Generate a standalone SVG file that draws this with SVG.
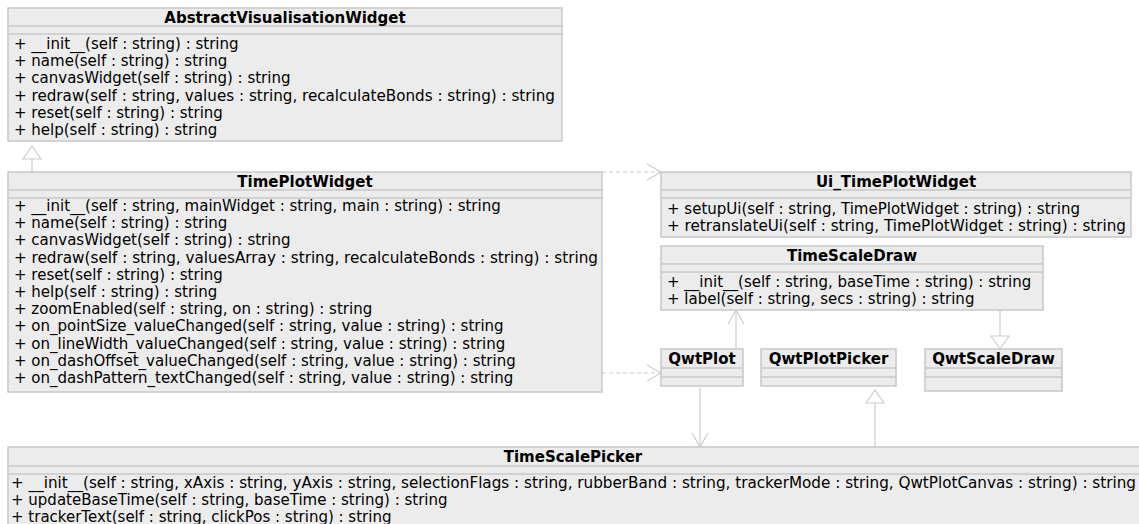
<svg xmlns="http://www.w3.org/2000/svg" width="1139" height="524" viewBox="0 0 1139 524">
  <defs>
    <style>
      .box { fill: #ececec; stroke: #c8c8c8; stroke-width: 1.5; }
      .sep { stroke: #c8c8c8; stroke-width: 1.5; }
      .title { font-family: "DejaVu Sans", sans-serif; font-size: 15px; font-weight: bold; fill: #000; text-anchor: middle; }
      .op { font-family: "DejaVu Sans", sans-serif; font-size: 15px; fill: #000; }
      .link { fill: none; stroke: #cccccc; stroke-width: 1.2; }
      .dash { stroke-dasharray: 4 3; }
    </style>
    <marker id="open" viewBox="0 0 16 18" refX="15" refY="9" markerWidth="16" markerHeight="18" markerUnits="userSpaceOnUse" orient="auto">
      <path d="M1,1 L15,9 L1,17" fill="none" stroke="#cccccc" stroke-width="1.2"/>
    </marker>
    <marker id="tri" viewBox="0 0 16 20" refX="14" refY="10" markerWidth="16" markerHeight="20" markerUnits="userSpaceOnUse" orient="auto">
      <path d="M1,1 L14,10 L1,19 Z" fill="#ffffff" stroke="#cccccc" stroke-width="1.2"/>
    </marker>
  </defs>
  <rect width="1139" height="524" fill="#ffffff"/>

  <g id="connectors">
    <path class="link" d="M32,172 L32,146" marker-end="url(#tri)"/>
    <path class="link dash" d="M602,172 L661,172" marker-end="url(#open)"/>
    <path class="link dash" d="M602,373 L661,373" marker-end="url(#open)"/>
    <path class="link" d="M736,349 L736,310" marker-end="url(#open)"/>
    <path class="link" d="M1000,310 L1000,349" marker-end="url(#tri)"/>
    <path class="link" d="M700,388 L700,447" marker-end="url(#open)"/>
    <path class="link" d="M875,447 L875,390" marker-end="url(#tri)"/>
  </g>

  <g id="AbstractVisualisationWidget">
    <rect class="box" x="8" y="8" width="554" height="133"/>
    <line class="sep" x1="8" y1="26" x2="562" y2="26"/>
    <line class="sep" x1="8" y1="34" x2="562" y2="34"/>
    <text class="title" x="285" y="22.5">AbstractVisualisationWidget</text>
    <text class="op" x="14" y="49">+ __init__(self : string) : string</text>
    <text class="op" x="14" y="66.2">+ name(self : string) : string</text>
    <text class="op" x="14" y="83.4">+ canvasWidget(self : string) : string</text>
    <text class="op" x="14" y="100.6" textLength="541" lengthAdjust="spacingAndGlyphs">+ redraw(self : string, values : string, recalculateBonds : string) : string</text>
    <text class="op" x="14" y="117.8">+ reset(self : string) : string</text>
    <text class="op" x="14" y="135">+ help(self : string) : string</text>
  </g>

  <g id="TimePlotWidget">
    <rect class="box" x="8" y="172" width="594" height="220"/>
    <line class="sep" x1="8" y1="190" x2="602" y2="190"/>
    <line class="sep" x1="8" y1="198" x2="602" y2="198"/>
    <text class="title" x="305" y="186.5">TimePlotWidget</text>
    <text class="op" x="14" y="211">+ __init__(self : string, mainWidget : string, main : string) : string</text>
    <text class="op" x="14" y="228.2">+ name(self : string) : string</text>
    <text class="op" x="14" y="245.4">+ canvasWidget(self : string) : string</text>
    <text class="op" x="14" y="262.6" textLength="584" lengthAdjust="spacingAndGlyphs">+ redraw(self : string, valuesArray : string, recalculateBonds : string) : string</text>
    <text class="op" x="14" y="279.8">+ reset(self : string) : string</text>
    <text class="op" x="14" y="297">+ help(self : string) : string</text>
    <text class="op" x="14" y="314.2">+ zoomEnabled(self : string, on : string) : string</text>
    <text class="op" x="14" y="331.4">+ on_pointSize_valueChanged(self : string, value : string) : string</text>
    <text class="op" x="14" y="348.6">+ on_lineWidth_valueChanged(self : string, value : string) : string</text>
    <text class="op" x="14" y="365.8">+ on_dashOffset_valueChanged(self : string, value : string) : string</text>
    <text class="op" x="14" y="383">+ on_dashPattern_textChanged(self : string, value : string) : string</text>
  </g>

  <g id="Ui_TimePlotWidget">
    <rect class="box" x="661" y="172" width="470" height="65"/>
    <line class="sep" x1="661" y1="190" x2="1131" y2="190"/>
    <line class="sep" x1="661" y1="198" x2="1131" y2="198"/>
    <text class="title" x="896" y="186.5">Ui_TimePlotWidget</text>
    <text class="op" x="667" y="213.5">+ setupUi(self : string, TimePlotWidget : string) : string</text>
    <text class="op" x="667" y="230.7" textLength="459" lengthAdjust="spacingAndGlyphs">+ retranslateUi(self : string, TimePlotWidget : string) : string</text>
  </g>

  <g id="TimeScaleDraw">
    <rect class="box" x="661" y="246" width="382" height="64"/>
    <line class="sep" x1="661" y1="264" x2="1043" y2="264"/>
    <line class="sep" x1="661" y1="272" x2="1043" y2="272"/>
    <text class="title" x="852" y="260.5">TimeScaleDraw</text>
    <text class="op" x="667" y="286.5">+ __init__(self : string, baseTime : string) : string</text>
    <text class="op" x="667" y="303.7">+ label(self : string, secs : string) : string</text>
  </g>

  <g id="QwtPlot">
    <rect class="box" x="661" y="349" width="82" height="37"/>
    <line class="sep" x1="661" y1="368" x2="743" y2="368"/>
    <line class="sep" x1="661" y1="377" x2="743" y2="377"/>
    <text class="title" x="702" y="363.5">QwtPlot</text>
  </g>

  <g id="QwtPlotPicker">
    <rect class="box" x="761" y="349" width="135" height="37"/>
    <line class="sep" x1="761" y1="368" x2="896" y2="368"/>
    <line class="sep" x1="761" y1="377" x2="896" y2="377"/>
    <text class="title" x="828.5" y="363.5">QwtPlotPicker</text>
  </g>

  <g id="QwtScaleDraw">
    <rect class="box" x="925" y="349" width="137" height="42"/>
    <line class="sep" x1="925" y1="368" x2="1062" y2="368"/>
    <line class="sep" x1="925" y1="377" x2="1062" y2="377"/>
    <text class="title" x="993.5" y="363.5">QwtScaleDraw</text>
  </g>

  <g id="TimeScalePicker">
    <rect class="box" x="8" y="447" width="1140" height="90"/>
    <line class="sep" x1="8" y1="466" x2="1148" y2="466"/>
    <line class="sep" x1="8" y1="474" x2="1148" y2="474"/>
    <text class="title" x="573" y="461.5">TimeScalePicker</text>
    <text class="op" x="11" y="487.5" textLength="1125" lengthAdjust="spacingAndGlyphs">+ __init__(self : string, xAxis : string, yAxis : string, selectionFlags : string, rubberBand : string, trackerMode : string, QwtPlotCanvas : string) : string</text>
    <text class="op" x="11" y="504.5">+ updateBaseTime(self : string, baseTime : string) : string</text>
    <text class="op" x="11" y="521.5">+ trackerText(self : string, clickPos : string) : string</text>
  </g>
</svg>
